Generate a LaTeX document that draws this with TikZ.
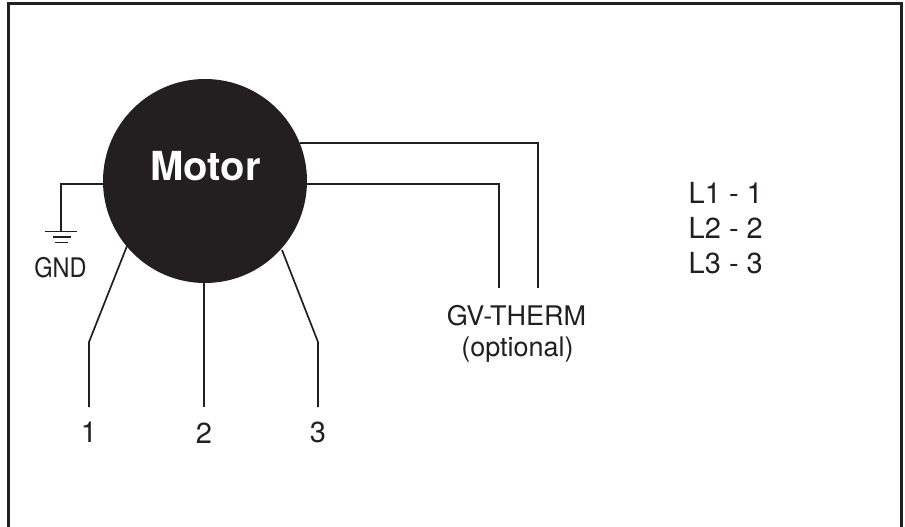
\documentclass[tikz,border=0pt]{standalone}
\usepackage{fontspec}
\setmainfont{TeX Gyre Heros}
\definecolor{ink}{HTML}{231F20}
\tikzset{
  wire/.style={draw=ink,line width=1.7pt,line join=miter},
  frameline/.style={draw=ink,line width=3pt},
  lbl/.style={text=ink,font=\fontsize{29}{29}\selectfont,inner sep=0pt,anchor=base},
  lblb/.style={text=ink,font=\fontsize{27}{27}\selectfont,inner sep=0pt,anchor=base},
  motorbody/.style={circle,fill=ink,draw=none,minimum size=204pt,inner sep=0pt},
}
\begin{document}
\begin{tikzpicture}[x=1pt,y=-1pt]
\useasboundingbox (0,0) rectangle (905,527);
\fill[white] (0,0) rectangle (905,527);
\draw[frameline] (8.5,527) -- (8.5,4) -- (901.5,4) -- (901.5,527);
\node[motorbody] (motor) at (205,181) {};
\node[text=white,font=\bfseries\fontsize{40}{40}\selectfont,inner sep=0pt,anchor=base] (mlabel) at (205.5,180) {Motor};
% ground
\coordinate (gt) at (61,231.5);
\coordinate (gcorner) at (61,184);
\coordinate (g1l) at (45,231.5); \coordinate (g1r) at (77,231.5);
\coordinate (g2l) at (52.5,237); \coordinate (g2r) at (71,237);
\coordinate (g3l) at (54.5,242.5); \coordinate (g3r) at (67.5,242.5);
\draw[wire] (motor.west |- gcorner) -- (gcorner) -- (gt);
\draw[wire] (g1l) -- (g1r);
\draw[wire] (g2l) -- (g2r);
\draw[wire] (g3l) -- (g3r);
\node[lblb] (gnd) at (60.5,277) {\scalebox{.87}[1]{GND}};
% phase wires
\node[lbl] (n1) at (89,442) {1};
\node[lbl] (n2) at (204,443.5) {2};
\node[lbl] (n3) at (318,442) {3};
\coordinate (b1) at (89,342);
\coordinate (b3) at (318,342);
\coordinate (e1) at (89,407);
\coordinate (e2) at (204,407);
\coordinate (e3) at (318,407);
\draw[wire] (127,246) -- (b1) -- (e1);
\draw[wire] (motor.south -| e2) -- (e2);
\draw[wire] (282,250) -- (b3) -- (e3);
% therm
\node[lblb] (therm) at (516.5,325) {GV-THERM};
\node[lblb] (opt) at (517.5,356) {(optional)};
\coordinate (t1) at (538,143);
\coordinate (t2) at (499,184);
\coordinate (f1) at (538,288);
\coordinate (f2) at (499,288);
\draw[wire] (300,143) -- (t1) -- (f1);
\draw[wire] (307,184) -- (t2) -- (f2);
% legend
\node[lbl,anchor=base west] (l1) at (688.5,203) {L1 - 1};
\node[lbl,anchor=base west] (l2) at (688.5,238) {L2 - 2};
\node[lbl,anchor=base west] (l3) at (688.5,273) {L3 - 3};
\end{tikzpicture}
\end{document}
